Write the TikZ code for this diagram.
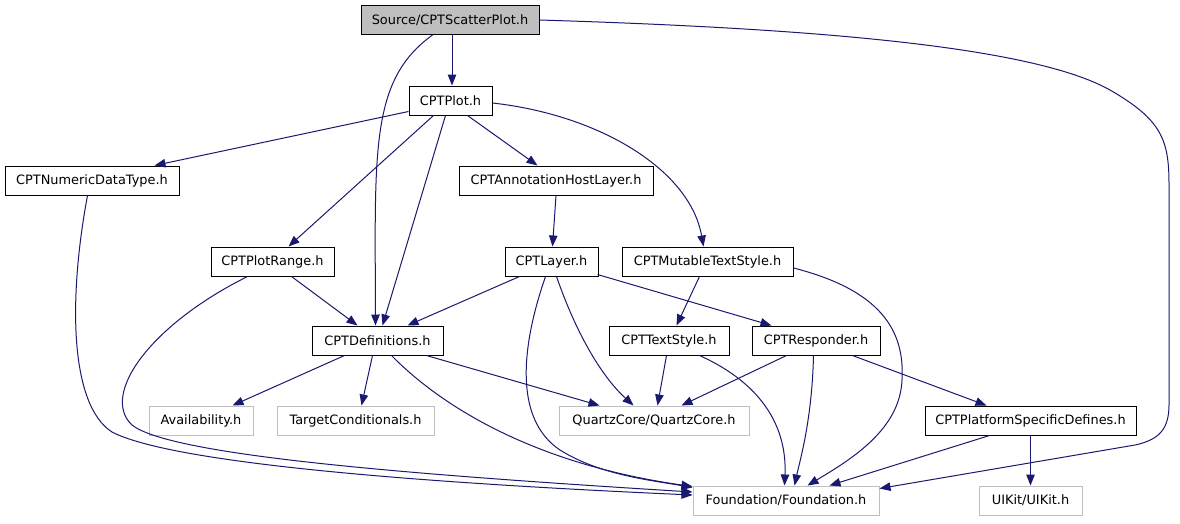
\documentclass[tikz,border=0pt]{standalone}
\usepackage{fontspec}
\setmainfont{DejaVu Sans}
\usetikzlibrary{arrows.meta,calc}
\definecolor{edgeblue}{HTML}{191970}
\definecolor{extgray}{HTML}{BFBFBF}
\definecolor{srcgray}{HTML}{BFBFBF}
\begin{document}
\begin{tikzpicture}[x=1pt,y=-1pt,
  box/.style={draw=black, line width=1pt, fill=white, minimum height=29pt, inner sep=0pt,
    font=\fontsize{12.9}{15}\selectfont},
  extbox/.style={box, draw=extgray},
  srcbox/.style={box, fill=srcgray},
  dep/.style={draw=edgeblue, line width=1pt, -{Triangle[length=11pt,width=8.5pt]}}]
\useasboundingbox[fill=white] (0,0) rectangle (1180,523);
% nodes
\node[srcbox, minimum width=178pt] (src) at (450,20) {Source/CPTScatterPlot.h};
\node[box, minimum width=83pt] (plot) at (450.5,100.5) {CPTPlot.h};
\node[box, minimum width=174pt] (num) at (92,180.5) {CPTNumericDataType.h};
\node[box, minimum width=194pt] (annot) at (556,180.5) {CPTAnnotationHostLayer.h};
\node[box, minimum width=123pt] (range) at (272.5,261.5) {CPTPlotRange.h};
\node[box, minimum width=93pt] (layer) at (551.5,261.5) {CPTLayer.h};
\node[box, minimum width=171pt] (mts) at (707.5,261.5) {CPTMutableTextStyle.h};
\node[box, minimum width=131pt] (defs) at (377.5,340.5) {CPTDefinitions.h};
\node[box, minimum width=120pt] (ts) at (669,340.5) {CPTTextStyle.h};
\node[box, minimum width=128pt] (resp) at (816,340.5) {CPTResponder.h};
\node[extbox, minimum width=104pt] (avail) at (201,420.5) {Availability.h};
\node[extbox, minimum width=157pt] (tc) at (355.5,420.5) {TargetConditionals.h};
\node[extbox, minimum width=190pt] (qc) at (654,420.5) {QuartzCore/QuartzCore.h};
\node[box, minimum width=211pt] (psd) at (1030.5,420.5) {CPTPlatformSpecificDefines.h};
\node[extbox, minimum width=186pt] (found) at (786,500.5) {Foundation/Foundation.h};
\node[extbox, minimum width=103pt] (uikit) at (1030.5,500.5) {UIKit/UIKit.h};
% edges
\draw[dep] ([xshift=2pt]src.south) -- ([xshift=1.5pt]plot.north);
\draw[dep] ($(src.south west)+(72,0)$) .. controls (370,80) and (375,150) .. ($(defs.north west)+(64,0)$);
\draw[dep] (src.east) .. controls (800,28) and (1030,45) .. (1110,90)
  .. controls (1162,120) and (1169,140) .. (1169,185) -- (1169,405)
  .. controls (1169,430) and (1158,440) .. (1135,445) -- ($(found.north east)+(0,3)$);
\draw[dep] ($(plot.south west)+(0,-4)$) -- ($(num.north west)+(150,0)$);
\draw[dep] ($(plot.south west)+(25,0)$) -- ($(range.north west)+(78,0)$);
\draw[dep] ($(plot.south west)+(37,0)$) -- ($(defs.north west)+(71,0)$);
\draw[dep] ($(plot.south west)+(59,0)$) -- ($(annot.north west)+(79,0)$);
\draw[dep] ($(plot.east)+(0,2.5)$) .. controls (600,115) and (690,170) .. ($(mts.north west)+(82,0)$);
\draw[dep] ($(num.south west)+(83,0)$) .. controls (68,300) and (70,405) .. (112,432)
  .. controls (170,462) and (400,482) .. ($(found.west)+(0,-5.5)$);
\draw[dep] ($(range.south west)+(81,0)$) -- ($(defs.north west)+(46,0)$);
\draw[dep] ($(range.south west)+(37,0)$) .. controls (150,325) and (100,395) .. (132,425)
  .. controls (170,455) and (400,474) .. ($(found.west)+(0,-8.5)$);
\draw[dep] (annot.south) -- ($(layer.north west)+(48,0)$);
\draw[dep] ($(layer.south west)+(15,0)$) -- ($(defs.north west)+(96,0)$);
\draw[dep] ($(layer.south east)+(-1,-2)$) -- ($(resp.north west)+(20,0)$);
\draw[dep] ($(layer.south west)+(52,0)$) .. controls (575,330) and (600,375) .. ($(qc.north west)+(75,0)$);
\draw[dep] ($(layer.south west)+(41,0)$) .. controls (520,350) and (515,420) .. (560,450)
  .. controls (600,475) and (650,480) .. ($(found.north west)+(0,2)$);
\draw[dep] ($(defs.south west)+(33,0)$) -- ($(avail.north west)+(84,0)$);
\draw[dep] ($(defs.south west)+(61,0)$) -- ($(tc.north west)+(85,0)$);
\draw[dep] ($(defs.south west)+(115,0)$) -- ($(qc.north west)+(41,0)$);
\draw[dep] ($(defs.south west)+(80,0)$) .. controls (445,410) and (540,465) .. ($(found.north west)+(0,1)$);
\draw[dep] ($(mts.south west)+(78,0)$) -- ($(ts.north west)+(68,0)$);
\draw[dep] ($(mts.east)+(0,6.5)$) .. controls (880,290) and (905,330) .. (902,380)
  .. controls (900,430) and (850,460) .. ($(found.north west)+(115,0)$);
\draw[dep] ($(ts.south west)+(58,0)$) -- ($(qc.north west)+(99,0)$);
\draw[dep] ($(ts.south west)+(91,0)$) .. controls (765,385) and (787,430) .. ($(found.north west)+(92,0)$);
\draw[dep] ($(resp.south west)+(35,0)$) -- ($(qc.north west)+(123,0)$);
\draw[dep] ($(resp.south west)+(62,0)$) .. controls (812,420) and (800,460) .. ($(found.north west)+(102,0)$);
\draw[dep] ($(resp.south west)+(101,0)$) -- ($(psd.north west)+(62,0)$);
\draw[dep] ($(psd.south west)+(65,0)$) -- ($(found.north west)+(137,0)$);
\draw[dep] (psd.south) -- (uikit.north);
\end{tikzpicture}
\end{document}
